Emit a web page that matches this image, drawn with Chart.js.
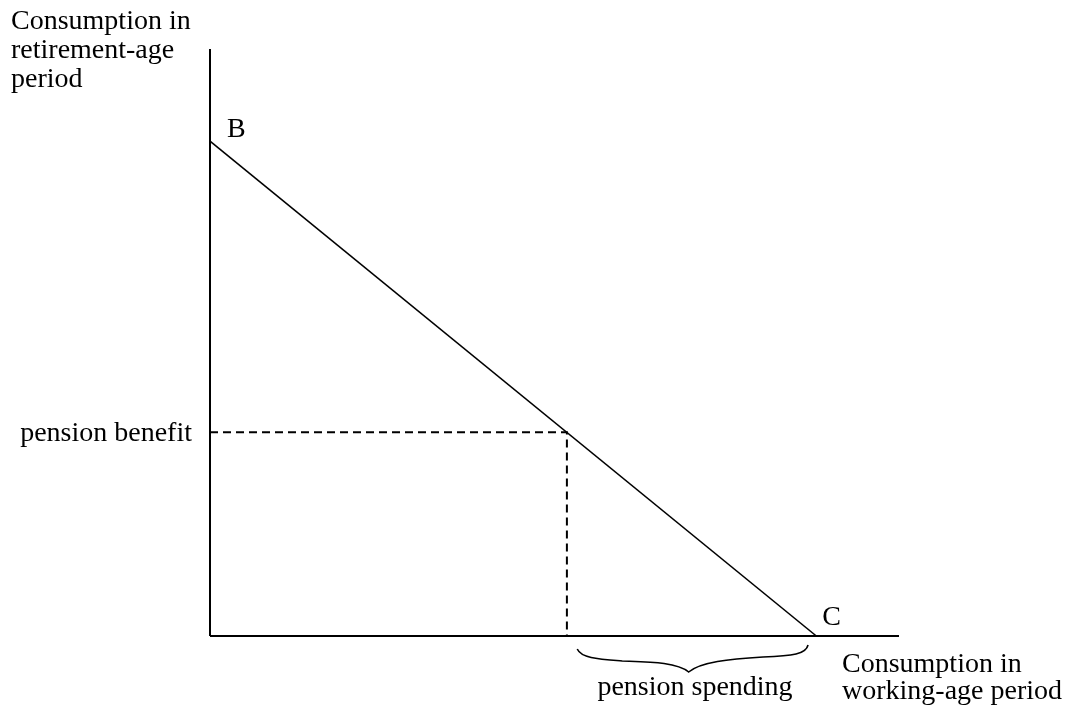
<!DOCTYPE html>
<html>
<head>
<meta charset="utf-8">
<script src="https://cdn.jsdelivr.net/npm/chart.js@4"></script>
<style>
  html, body { margin: 0; padding: 0; background: #fff; }
  #wrap { width: 1071px; height: 710px; }
</style>
</head>
<body>
<div id="wrap"><canvas id="chart"></canvas></div>
<script>
// axis extents (abstract units)
const xMax = 100;
const yMax = 100;

// budget line endpoints: B on the y axis, C on the x axis
const budgetB = 84.3;
const budgetC = 88;

// pension point on the budget line
const pensionX = 51.8;
const pensionBenefit = 34.7;

// brace under the x axis ("pension spending")
const braceFrom = 53.3;
const braceTo = 86.8;

const yAxisTitle = ['Consumption in', 'retirement-age', 'period'];
const xAxisTitle = ['Consumption in', 'working-age period'];

const serif = "'Liberation Serif', 'Times New Roman', serif";

const labelsPlugin = {
  id: 'labels',
  afterDraw(chart) {
    const ctx = chart.ctx;
    const xs = chart.scales.x, ys = chart.scales.y;
    const px = v => xs.getPixelForValue(v);
    const py = v => ys.getPixelForValue(v);
    ctx.save();
    ctx.fillStyle = '#000';
    ctx.font = '28px ' + serif;
    ctx.textBaseline = 'alphabetic';

    // y axis title
    ctx.textAlign = 'left';
    yAxisTitle.forEach((t, i) => ctx.fillText(t, 11, 29 + i * 29));

    // x axis title
    xAxisTitle.forEach((t, i) => ctx.fillText(t, 842, 672 + i * 27));

    // B and C
    ctx.fillText('B', px(0) + 17, py(budgetB) - 4);
    ctx.fillText('C', px(budgetC) + 6, py(0) - 11);

    // pension benefit
    ctx.textAlign = 'right';
    ctx.fillText('pension benefit', px(0) - 18, py(pensionBenefit) + 9);

    // brace
    const x0 = px(braceFrom), x1 = px(braceTo);
    const mid = (x0 + x1) / 2 - 4;
    const top = py(0) + 13;
    ctx.strokeStyle = '#000';
    ctx.lineWidth = 1.6;
    ctx.beginPath();
    ctx.moveTo(x0, top);
    ctx.bezierCurveTo(x0 + 4, top + 9, x0 + 20, top + 10, x0 + 45, top + 12);
    ctx.bezierCurveTo(mid - 40, top + 13, mid - 12, top + 13, mid, top + 23);
    ctx.bezierCurveTo(mid + 12, top + 13, mid + 40, top + 10, x1 - 45, top + 8);
    ctx.bezierCurveTo(x1 - 15, top + 7, x1 - 2, top + 5, x1, top - 4);
    ctx.stroke();

    ctx.textAlign = 'center';
    ctx.fillText('pension spending', 695, py(0) + 59);
    ctx.restore();
  }
};

const solid = { borderColor: '#000', pointRadius: 0, fill: false, tension: 0, clip: false };

new Chart(document.getElementById('chart'), {
  type: 'scatter',
  data: {
    datasets: [
      { ...solid, showLine: true, borderWidth: 2, data: [{ x: 0, y: 0 }, { x: 0, y: yMax }] },
      { ...solid, showLine: true, borderWidth: 2, data: [{ x: 0, y: 0 }, { x: xMax, y: 0 }] },
      { ...solid, showLine: true, borderWidth: 1.6, data: [{ x: 0, y: budgetB }, { x: budgetC, y: 0 }] },
      { ...solid, showLine: true, borderWidth: 2, borderDash: [8, 5],
        data: [{ x: 0, y: pensionBenefit }, { x: pensionX, y: pensionBenefit }, { x: pensionX, y: 0 }] }
    ]
  },
  options: {
    responsive: true,
    maintainAspectRatio: false,
    animation: false,
    layout: { padding: { left: 210, right: 172, top: 49, bottom: 74 } },
    scales: {
      x: { type: 'linear', min: 0, max: xMax, display: false },
      y: { type: 'linear', min: 0, max: yMax, display: false }
    },
    plugins: { legend: { display: false }, tooltip: { enabled: false } }
  },
  plugins: [labelsPlugin]
});
</script>
</body>
</html>
